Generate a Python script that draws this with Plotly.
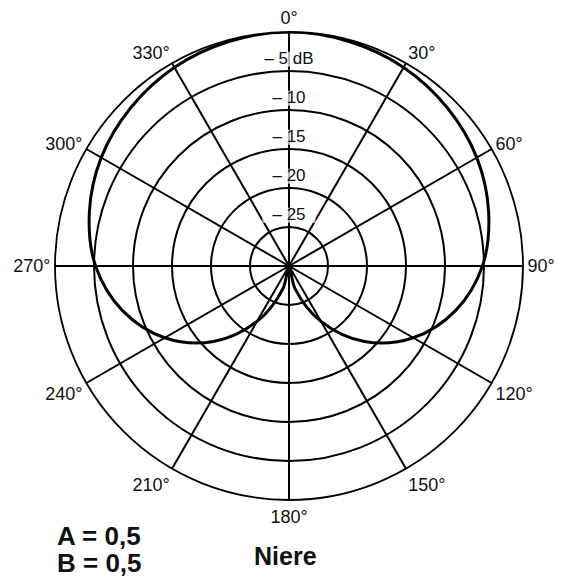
import plotly.graph_objects as go

# Cardioid ("Niere") pattern, level in dB
angles_deg = [0, 15, 30, 45, 60, 75, 90, 105, 120, 135, 150, 165, 180,
              195, 210, 225, 240, 255, 270, 285, 300, 315, 330, 345, 360]
level_db = [0.0, -0.2, -0.6, -1.3, -2.2, -3.5, -5.2, -7.9, -11.6, -16.3, -21.8, -27.0, -30.0,
            -27.0, -21.8, -16.3, -11.6, -7.9, -5.2, -3.5, -2.2, -1.3, -0.6, -0.2, 0.0]

ring_db = [-25, -20, -15, -10, -5]
ring_labels = ["– 25", "– 20", "– 15", "– 10", "– 5 dB"]
angle_ticks = list(range(0, 360, 30))
angle_labels = [f"{a}°" for a in angle_ticks]

FONT = "Liberation Sans, Arial, Helvetica, sans-serif"
NARROW = "Liberation Sans Narrow, Arial Narrow, Liberation Sans, sans-serif"

fig = go.Figure()

# dB labels along the 0° spoke, slightly outside each ring, on a white strip
fig.add_trace(go.Scatterpolar(
    theta=[0] * len(ring_db),
    r=[v + 1.5 for v in ring_db],
    mode="markers+text",
    text=ring_labels,
    textposition="middle center",
    textfont=dict(family=FONT, size=17, color="#111"),
    marker=dict(symbol="line-ew", size=[38, 38, 38, 38, 52],
                line=dict(color="white", width=15)),
    hoverinfo="skip",
    showlegend=False,
))

fig.add_trace(go.Scatterpolar(
    theta=angles_deg,
    r=level_db,
    mode="lines",
    line=dict(color="black", width=3, shape="spline", smoothing=1.0),
    showlegend=False,
))

W, H = 561, 577
cx, cy, rad = 289, 266, 234

fig.update_layout(
    width=W, height=H,
    margin=dict(l=0, r=0, t=0, b=0),
    paper_bgcolor="white",
    showlegend=False,
    polar=dict(
        domain=dict(x=[(cx - rad) / W, (cx + rad) / W],
                    y=[1 - (cy + rad) / H, 1 - (cy - rad) / H]),
        bgcolor="white",
        radialaxis=dict(range=[-30, 0], tickvals=ring_db, showticklabels=False,
                        showline=False, ticks="", gridcolor="black", gridwidth=1.5),
        angularaxis=dict(rotation=90, direction="clockwise",
                         tickvals=angle_ticks, ticktext=angle_labels, ticks="",
                         showline=True, linecolor="black", linewidth=1.8,
                         gridcolor="black", gridwidth=1.5,
                         tickfont=dict(family=FONT, size=18, color="#111")),
    ),
    annotations=[
        dict(text="<b>A = 0,5</b>", xref="paper", yref="paper", x=55 / W, y=1 - 536 / H,
             xanchor="left", yanchor="middle", showarrow=False,
             font=dict(family=NARROW, size=26, color="#111")),
        dict(text="<b>B = 0,5</b>", xref="paper", yref="paper", x=55 / W, y=1 - 563 / H,
             xanchor="left", yanchor="middle", showarrow=False,
             font=dict(family=NARROW, size=26, color="#111")),
        dict(text="<b>Niere</b>", xref="paper", yref="paper", x=252 / W, y=1 - 556 / H,
             xanchor="left", yanchor="middle", showarrow=False,
             font=dict(family=NARROW, size=25, color="#111")),
    ],
)

fig.write_html(
    "out.html",
    config={"displayModeBar": False},
    post_script="document.body.style.margin='0px';document.body.style.overflow='hidden';",
)
